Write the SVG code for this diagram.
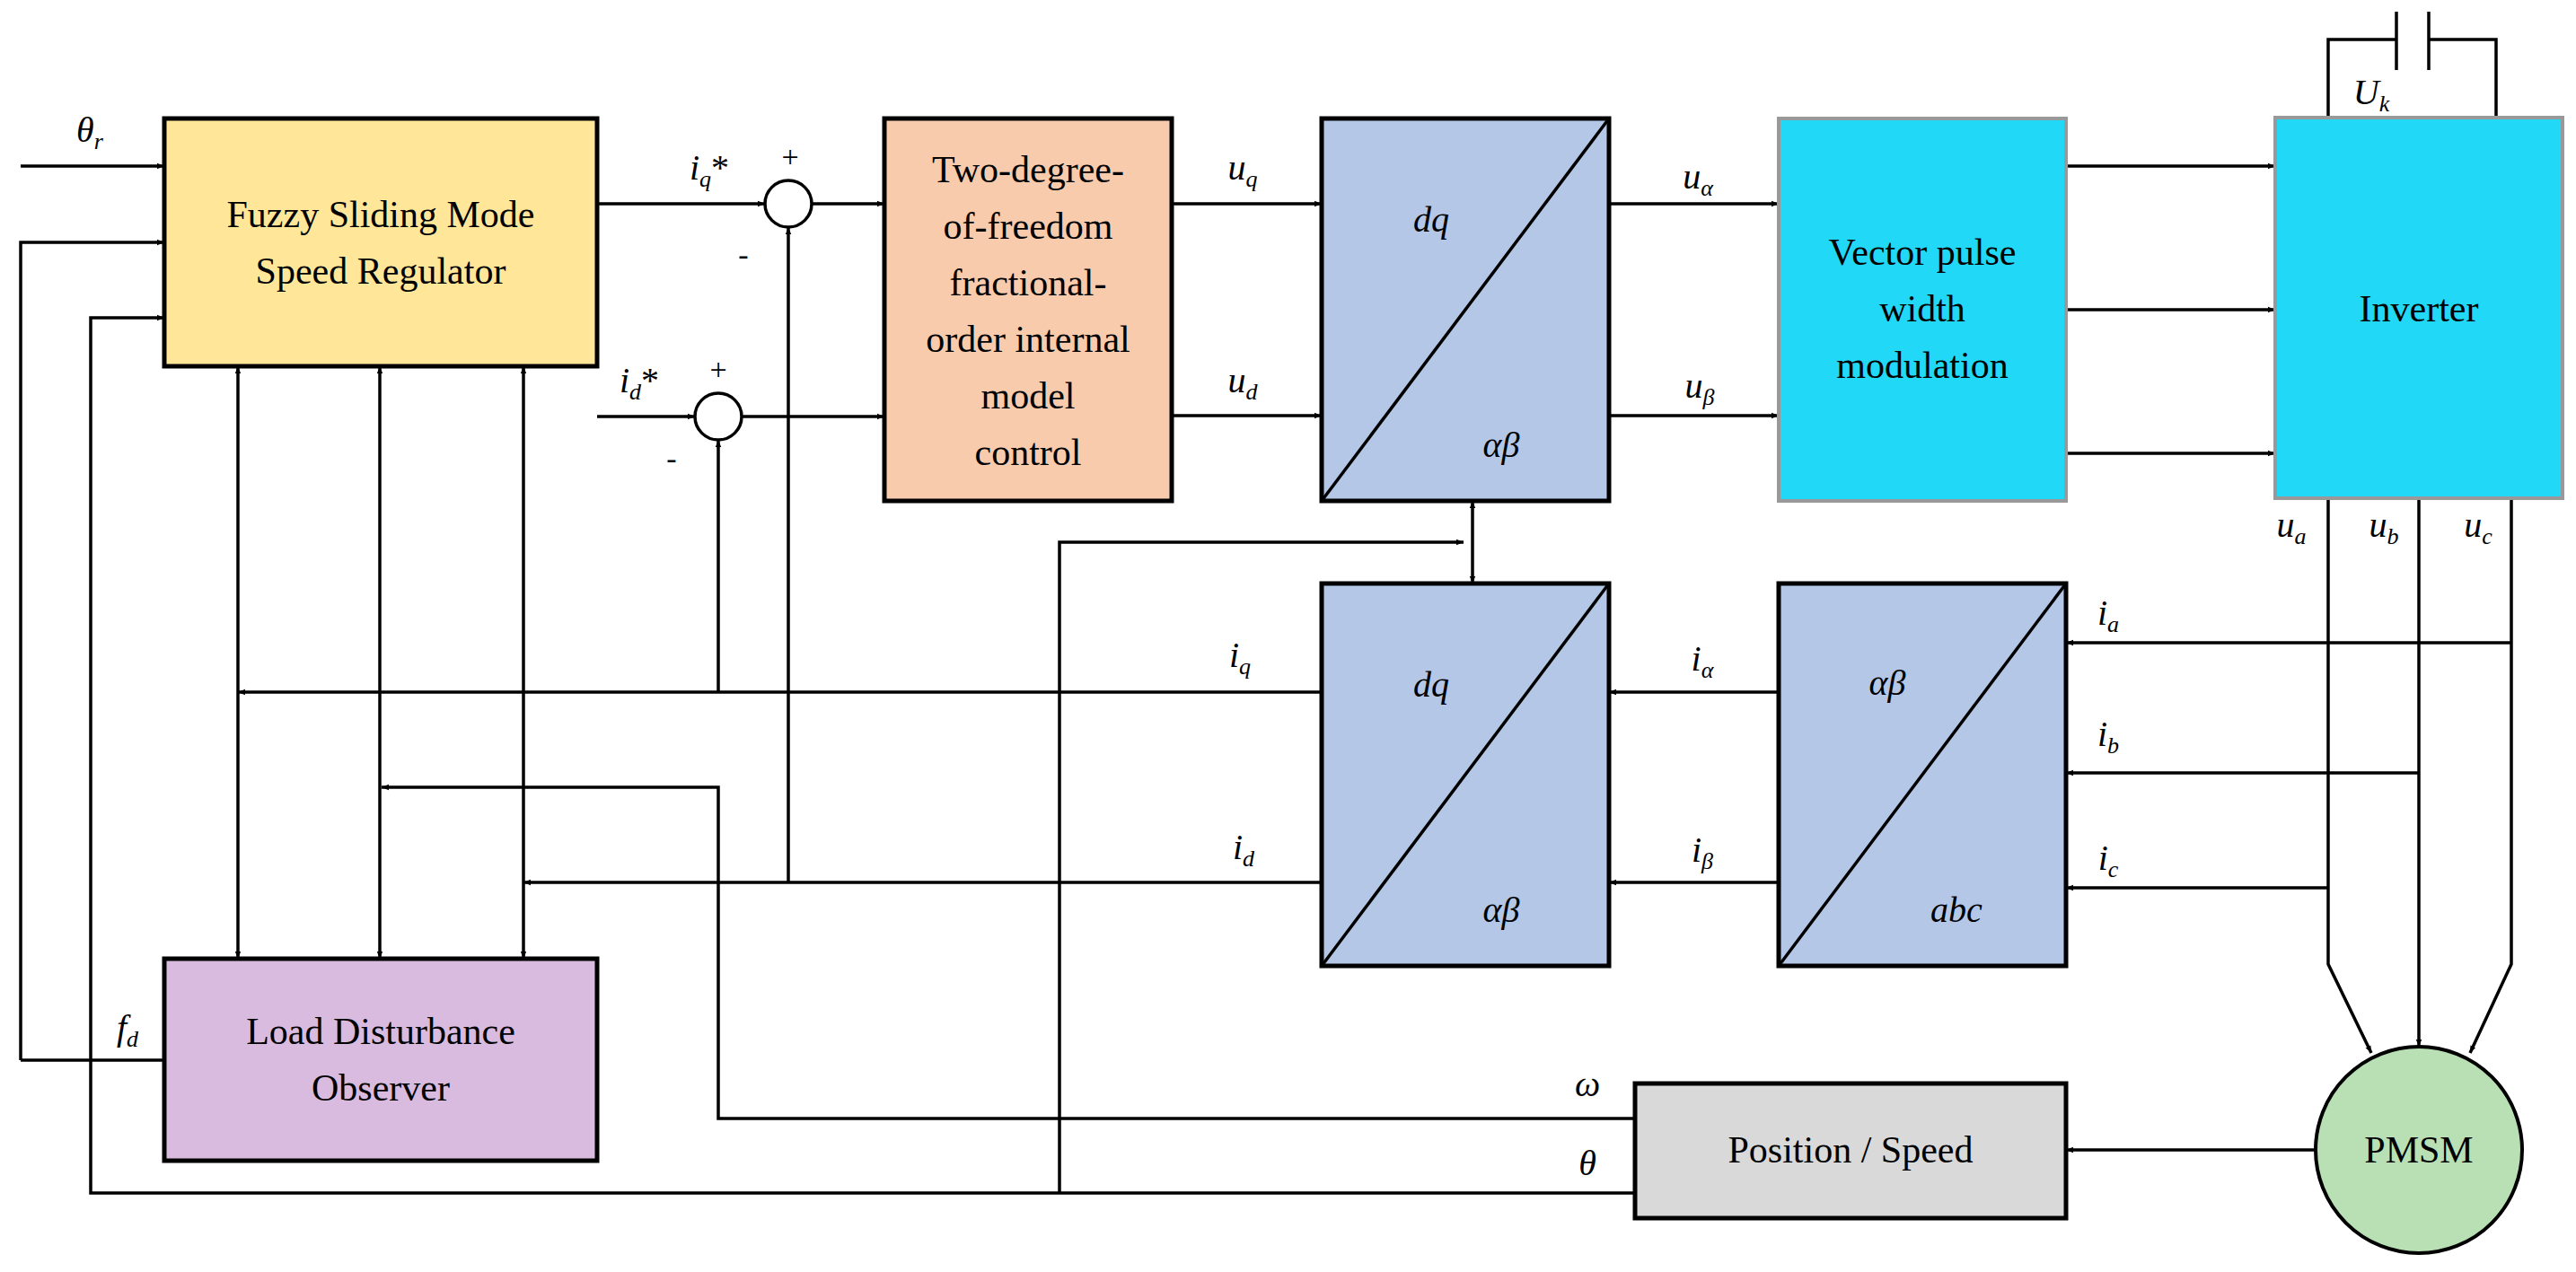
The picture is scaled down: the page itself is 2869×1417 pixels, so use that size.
<svg xmlns="http://www.w3.org/2000/svg" width="2869" height="1417" viewBox="0 0 2869 1417">
<defs>
<marker id="a" viewBox="0 0 10 10" refX="10" refY="5" markerWidth="8" markerHeight="8" markerUnits="userSpaceOnUse" orient="auto-start-reverse"><path d="M0,1 L10,5 L0,9 z" fill="#000"/></marker>
<style>
text{font-family:"Liberation Serif","Times New Roman",serif;fill:#000}
.t{font-size:42px;text-anchor:middle}
.l{font-size:40px;font-style:italic;text-anchor:middle}
.s{font-size:26px}
.b{stroke:#000;stroke-width:5}
.c{fill:none;stroke:#000;stroke-width:3.5}
.ar{marker-end:url(#a)}
.d2{marker-start:url(#a);marker-end:url(#a)}
</style>
</defs>
<rect width="2869" height="1417" fill="#fff"/>
<g id="connectors" class="c">
<path class="ar" d="M23,185H183"/>
<path class="ar" d="M23,1181V270H183"/>
<path d="M183,1181H23"/>
<path class="ar" d="M1821,1329H101V354H183"/>
<path class="ar" d="M665,227H852"/>
<path class="ar" d="M905,227H985"/>
<path class="ar" d="M665,464H774"/>
<path class="ar" d="M826,464H985"/>
<path class="ar" d="M878,983V253"/>
<path class="ar" d="M800,771V490"/>
<path class="ar" d="M1305,227H1472"/>
<path class="ar" d="M1305,463H1472"/>
<path class="ar" d="M1792,227H1981"/>
<path class="ar" d="M1792,463H1981"/>
<path class="ar" d="M2301,185H2534"/>
<path class="ar" d="M2301,345H2534"/>
<path class="ar" d="M2301,505H2534"/>
<path d="M2593,131V44H2669M2705,44H2780V131"/>
<path d="M2669,13V78M2705,13V78"/>
<path class="d2" d="M1640,558V650"/>
<path class="ar" d="M1180,1329V604H1630"/>
<path class="ar" d="M1472,771H265"/>
<path class="ar" d="M1472,983H583"/>
<path class="ar" d="M1981,771H1792"/>
<path class="ar" d="M1981,983H1792"/>
<path class="ar" d="M2797,716H2301"/>
<path class="ar" d="M2694,861H2301"/>
<path class="ar" d="M2593,989H2301"/>
<path class="ar" d="M2593,555V1074L2641,1173"/>
<path class="ar" d="M2694,555V1166"/>
<path class="ar" d="M2797,555V1074L2751,1173"/>
<path class="ar" d="M2580,1281H2301"/>
<path class="ar" d="M1821,1246H800V877H425"/>
<path class="d2" d="M265,408V1068"/>
<path class="d2" d="M423,408V1068"/>
<path class="d2" d="M583,408V1068"/>
</g>
<g id="fuzzy"><rect x="183" y="132" width="482" height="276" fill="#FFE699" class="b"/>
<text class="t" x="424" y="253">Fuzzy Sliding Mode</text><text class="t" x="424" y="316">Speed Regulator</text></g>
<g id="sumq"><circle cx="878" cy="227" r="26" fill="#fff" stroke="#000" stroke-width="3.5"/>
<text x="880" y="186" class="t" style="font-size:34px">+</text><text x="828" y="295" class="t" style="font-size:34px">-</text></g>
<g id="sumd"><circle cx="800" cy="464" r="26" fill="#fff" stroke="#000" stroke-width="3.5"/>
<text x="800" y="423" class="t" style="font-size:34px">+</text><text x="748" y="522" class="t" style="font-size:34px">-</text></g>
<g id="tdof"><rect x="985" y="132" width="320" height="426" fill="#F8CBAD" class="b"/>
<text class="t" x="1145" y="203">Two-degree-</text><text class="t" x="1145" y="266">of-freedom</text><text class="t" x="1145" y="329">fractional-</text><text class="t" x="1145" y="392">order internal</text><text class="t" x="1145" y="455">model</text><text class="t" x="1145" y="518">control</text></g>
<g id="park1"><rect x="1472" y="132" width="320" height="426" fill="#B4C7E7" class="b"/><path d="M1472,558L1792,132" class="c"/>
<text class="l" x="1594" y="258">dq</text><text class="l" x="1672" y="509">αβ</text></g>
<g id="svpwm"><rect x="1981" y="132" width="320" height="426" fill="#22D8F7" stroke="#999" stroke-width="4"/>
<text class="t" x="2141" y="295">Vector pulse</text><text class="t" x="2141" y="358">width</text><text class="t" x="2141" y="421">modulation</text></g>
<g id="inverter"><rect x="2534" y="131" width="320" height="424" fill="#22D8F7" stroke="#999" stroke-width="4"/>
<text class="t" x="2694" y="358">Inverter</text>
<text class="l" x="2641" y="116">U<tspan class="s" dy="8">k</tspan></text></g>
<g id="park2"><rect x="1472" y="650" width="320" height="426" fill="#B4C7E7" class="b"/><path d="M1472,1076L1792,650" class="c"/>
<text class="l" x="1594" y="776">dq</text><text class="l" x="1672" y="1027">αβ</text></g>
<g id="clarke"><rect x="1981" y="650" width="320" height="426" fill="#B4C7E7" class="b"/><path d="M1981,1076L2301,650" class="c"/>
<text class="l" x="2102" y="774">αβ</text><text class="l" x="2179" y="1027">abc</text></g>
<g id="ldo"><rect x="183" y="1068" width="482" height="225" fill="#D9BBE0" class="b"/>
<text class="t" x="424" y="1163">Load Disturbance</text><text class="t" x="424" y="1226">Observer</text></g>
<g id="possp"><rect x="1821" y="1207" width="480" height="150" fill="#D9D9D9" class="b"/>
<text class="t" x="2061" y="1295">Position / Speed</text></g>
<g id="pmsm"><circle cx="2694" cy="1281" r="115" fill="#B9E0B4" stroke="#000" stroke-width="4"/>
<text class="t" x="2694" y="1295">PMSM</text></g>
<g id="labels">
<text class="l" x="100" y="158">θ<tspan class="s" dy="8">r</tspan></text>
<text class="l" x="790" y="200">i<tspan class="s" dy="8">q</tspan><tspan dy="-8" font-style="normal">*</tspan></text>
<text class="l" x="712" y="437">i<tspan class="s" dy="8">d</tspan><tspan dy="-8" font-style="normal">*</tspan></text>
<text class="l" x="1384" y="200">u<tspan class="s" dy="8">q</tspan></text>
<text class="l" x="1384" y="437">u<tspan class="s" dy="8">d</tspan></text>
<text class="l" x="1891" y="210">u<tspan class="s" dy="8">α</tspan></text>
<text class="l" x="1893" y="443">u<tspan class="s" dy="8">β</tspan></text>
<text class="l" x="2552" y="598">u<tspan class="s" dy="8">a</tspan></text>
<text class="l" x="2655" y="598">u<tspan class="s" dy="8">b</tspan></text>
<text class="l" x="2760" y="598">u<tspan class="s" dy="8">c</tspan></text>
<text class="l" x="2348" y="696">i<tspan class="s" dy="8">a</tspan></text>
<text class="l" x="2348" y="831">i<tspan class="s" dy="8">b</tspan></text>
<text class="l" x="2348" y="969">i<tspan class="s" dy="8">c</tspan></text>
<text class="l" x="1896" y="747">i<tspan class="s" dy="8">α</tspan></text>
<text class="l" x="1896" y="960">i<tspan class="s" dy="8">β</tspan></text>
<text class="l" x="1381" y="743">i<tspan class="s" dy="8">q</tspan></text>
<text class="l" x="1385" y="957">i<tspan class="s" dy="8">d</tspan></text>
<text class="l" x="1768" y="1221">ω</text>
<text class="l" x="1768" y="1309">θ</text>
<text class="l" x="142" y="1158">f<tspan class="s" dy="8">d</tspan></text>
</g>
</svg>
